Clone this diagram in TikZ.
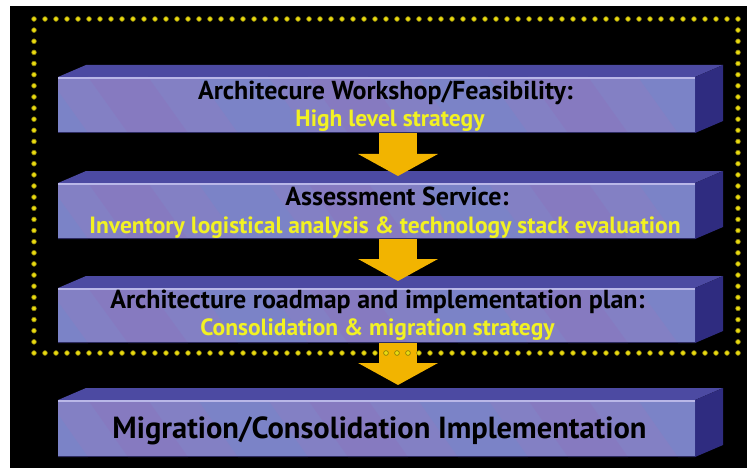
\documentclass[tikz,border=0pt]{standalone}
\usepackage{fontspec}
\setmainfont{PT Sans}
\usetikzlibrary{arrows.meta}
\definecolor{frontc}{HTML}{8380C4}
\definecolor{bandblue}{HTML}{7088CC}
\definecolor{bandviolet}{HTML}{8C72BC}
\definecolor{topc}{HTML}{4C4AA2}
\definecolor{sidec}{HTML}{2F2C80}
\definecolor{hilite}{HTML}{B9B7E8}
\definecolor{arrowc}{HTML}{F2B400}
\definecolor{dotc}{HTML}{EADB10}
\definecolor{ylw}{HTML}{F2F222}
\tikzset{
  front/.style={rectangle, inner sep=0pt, fill=frontc, minimum width=637pt},
  blk/.style={anchor=base, inner sep=0pt, text=black, font=\bfseries\fontsize{26}{26}\selectfont},
  ylwtxt/.style={anchor=base, inner sep=0pt, text=ylw, font=\bfseries\fontsize{23.5}{23.5}\selectfont},
  bigtxt/.style={anchor=base, inner sep=0pt, text=black, font=\bfseries\fontsize{30.5}{30.5}\selectfont},
  arr/.style={draw=arrowc, line width=38pt, -{Triangle[width=79pt,length=22pt]}},
  dot/.style={fill=dotc, draw=dotc!55!black, line width=0.6pt}
}
\newcommand\drawslab[3]{%
  \fill[topc] (58,#2) -- (86,#2-12) -- (723,#2-12) -- (695,#2) -- cycle;
  \fill[sidec] (695,#2) -- (723,#2-12) -- (723,#3-12) -- (695,#3) -- cycle;
  \node[front, minimum height={#3-#2}] (#1) at (376.5,{(#2+#3)/2}) {};
  \begin{scope}
    \clip (58,#2) rectangle (695,#3);
    \foreach \x in {-80,140,...,700}{
      \fill[bandblue, opacity=0.4] ({58+\x},#2) -- ({58+\x+70},#2) -- ({58+\x+110},#3) -- ({58+\x+40},#3) -- cycle;
      \fill[bandviolet, opacity=0.4] ({58+\x+110},#2) -- ({58+\x+170},#2) -- ({58+\x+210},#3) -- ({58+\x+150},#3) -- cycle;
    }
  \end{scope}
  \draw[hilite, line width=1.5pt] (58,#2+1) -- (695,#2+1);
  \draw[topc!60!black, line width=1pt] (58,#3-0.5) -- (695,#3-0.5);
}
\begin{document}
\begin{tikzpicture}[x=1pt,y=-1pt]
\useasboundingbox (0,0) rectangle (747,468);
\fill[white] (0,0) rectangle (747,468);
\fill[black] (10,6) rectangle (747,468);

\drawslab{b1}{77}{133}
\drawslab{b2}{183}{239}
\drawslab{b3}{288}{343}
\drawslab{b4}{400}{457}

\coordinate (tip1) at (398,176);
\coordinate (tip2) at (398,281);
\coordinate (tip3) at (398,385);
\draw[arr] (b1.south -| tip1) -- (tip1);
\draw[arr] (b2.south -| tip2) -- (tip2);
\draw[arr] (b3.south -| tip3) -- (tip3);

\node[blk] (t1a) at (385.5,100) {Architecure Workshop/Feasibility:};
\node[ylwtxt] (t1b) at (390,127) {High level strategy};
\node[blk] (t2a) at (397,205) {Assessment Service:};
\node[ylwtxt] (t2b) at (385,233) {Inventory logistical analysis \& technology stack evaluation};
\node[blk] (t3a) at (377.5,308) {Architecture roadmap and implementation plan:};
\node[ylwtxt] (t3b) at (377.5,335) {Consolidation \& migration strategy};
\node[bigtxt] (t4) at (379.5,438) {Migration/Consolidation Implementation};

\foreach \i in {0,...,64}{
  \fill[dot] ({34+\i*11},19) circle (2.4);
  \fill[dot] ({34+\i*11},353) circle (2.4);
}
\foreach \i in {1,...,29}{
  \fill[dot] (34,{19+\i*334/30}) circle (2.4);
  \fill[dot] (738,{19+\i*334/30}) circle (2.4);
}
\end{tikzpicture}
\end{document}
